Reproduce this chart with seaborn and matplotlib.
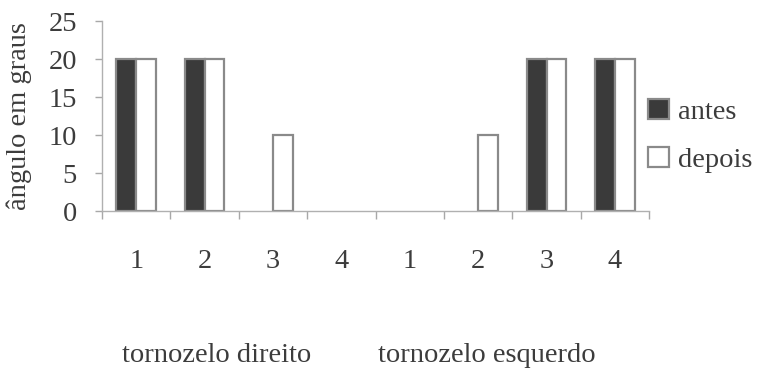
import matplotlib
matplotlib.use("Agg")
import matplotlib.pyplot as plt
import matplotlib.transforms as mtransforms
from matplotlib.patches import Patch
import pandas as pd
import seaborn as sns

# Data: ankle angle (degrees) per subject, before and after
subjects = ["1", "2", "3", "4", "1", "2", "3", "4"]
sides = ["tornozelo direito"] * 4 + ["tornozelo esquerdo"] * 4
antes = [20, 20, 0, 0, 0, 0, 20, 20]
depois = [20, 20, 10, 0, 0, 10, 20, 20]
series_names = ["antes", "depois"]
group_names = ["tornozelo direito", "tornozelo esquerdo"]
y_ticks = [0, 5, 10, 15, 20, 25]

keys = [f"{s[-8:]}-{n}" for s, n in zip(sides, subjects)]
df = pd.DataFrame({
    "key": keys * 2,
    "valor": antes + depois,
    "momento": [series_names[0]] * len(antes) + [series_names[1]] * len(depois),
})

sns.set_theme(style="white")
plt.rcParams["font.family"] = ["Liberation Serif", "DejaVu Serif"]
text_color = "#3c3c3c"
fs = 20.5
plt.rcParams["text.color"] = text_color
plt.rcParams["xtick.color"] = "#a8a8a8"
plt.rcParams["ytick.color"] = "#a8a8a8"

fig = plt.figure(figsize=(7.61, 3.69), dpi=100)
ax = fig.add_axes([0.134, 0.428, 0.719, 0.515])

palette = {"antes": "#3a3a3a", "depois": "white"}
sns.barplot(data=df, x="key", y="valor", hue="momento", order=keys,
            hue_order=series_names, palette=palette, width=0.58,
            edgecolor="#8a8a8a", linewidth=1.6, saturation=1,
            legend=False, ax=ax)
# zero-valued bars leave no visible mark
for bar in ax.patches:
    if bar.get_height() == 0:
        bar.set_visible(False)

ax.set_xlim(-0.5, len(keys) - 0.5)
ax.set_ylim(0, 25)
ax.set_yticks(y_ticks)
ax.set_yticklabels([str(v) for v in y_ticks], fontsize=fs, color=text_color)
ax.tick_params(axis="y", length=5, width=1, pad=13, left=True)

# boundary ticks (major) and centered subject labels (minor)
ax.set_xticks([i - 0.5 for i in range(len(keys) + 1)])
ax.set_xticklabels([])
ax.tick_params(axis="x", which="major", length=6, width=1, bottom=True)
ax.set_xticks(range(len(keys)), minor=True)
ax.set_xticklabels(subjects, minor=True, fontsize=fs, color=text_color)
ax.tick_params(axis="x", which="minor", length=0, pad=27)

for side in ["top", "right"]:
    ax.spines[side].set_visible(False)
for side in ["left", "bottom"]:
    ax.spines[side].set_color("#b0b0b0")
    ax.spines[side].set_linewidth(1)

ax.set_xlabel("")
ax.set_ylabel("ângulo em graus", fontsize=fs, color=text_color)
ax.yaxis.set_label_coords(-0.128, 0.5)

trans = mtransforms.blended_transform_factory(ax.transData, ax.transAxes)
for xpos, name in zip([1.18, 5.12], group_names):
    ax.text(xpos, -0.76, name, transform=trans, ha="center", va="center",
            fontsize=fs, color=text_color)

handles = [Patch(facecolor=palette[n], edgecolor="#8a8a8a", linewidth=1.6)
           for n in series_names]
fig.legend(handles, series_names, loc="upper left",
           bbox_to_anchor=(0.851, 0.733), frameon=False, fontsize=fs,
           handlelength=0.75, handleheight=0.75, handletextpad=0.3,
           labelspacing=0.76, borderaxespad=0, borderpad=0)

fig.savefig("out.png", dpi=100)
